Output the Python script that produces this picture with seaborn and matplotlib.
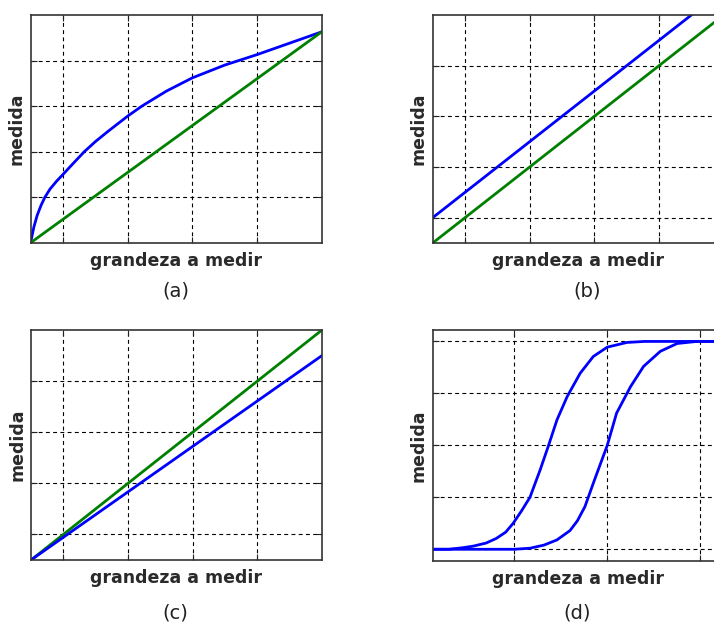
import matplotlib
matplotlib.use("Agg")
import matplotlib.pyplot as plt
import seaborn as sns

# (a) curva nao linear vs ideal
a_x = [0, 0.02, 0.05, 0.1, 0.16, 0.22, 0.3, 0.4, 0.5, 0.65, 0.83, 1.0, 1.2, 1.5,
       1.72, 2.1, 2.5, 3.0, 3.5, 4.0, 4.5]
a_blue = [0, 0.15, 0.35, 0.6, 0.82, 1.0, 1.18, 1.35, 1.5, 1.73, 2.0, 2.22, 2.45, 2.78,
          3.0, 3.33, 3.62, 3.9, 4.13, 4.38, 4.63]
a_green_x = [0, 4.5]
a_green = [0, 4.63]

# (b) offset
b_x = [0, 4.5]
b_blue = [0.5, 5.0]
b_green = [0, 4.5]

# (c) ganho
c_x = [0, 4.5]
c_blue = [0, 4.0]
c_green = [0, 4.5]

# (d) histerese
d_left_x = [0.126, 0.3, 0.45, 0.56, 0.7, 0.81, 0.91, 0.99, 1.08, 1.17, 1.28, 1.37, 1.46,
            1.57, 1.71, 1.85, 2.0, 2.21, 2.4, 3.25]
d_left_y = [0, 0.0, 0.03, 0.06, 0.12, 0.21, 0.33, 0.5, 0.74, 1.0, 1.53, 2.0, 2.49,
            2.94, 3.39, 3.71, 3.89, 3.98, 4.0, 4.0]
d_right_x = [0.126, 1.0, 1.17, 1.32, 1.46, 1.6, 1.68, 1.76, 1.86, 2.0, 2.1, 2.25, 2.39,
             2.57, 2.75, 2.96, 3.25]
d_right_y = [0, 0, 0.02, 0.08, 0.18, 0.36, 0.55, 0.82, 1.32, 2.0, 2.62, 3.13, 3.52,
             3.81, 3.96, 4.0, 4.0]

BLUE = "#0000ff"
GREEN = "#008000"
W, H = 714, 623

sns.set_style("white")
plt.rcParams["font.family"] = ["DejaVu Sans"]

fig = plt.figure(figsize=(W / 100, H / 100), dpi=100)


def make_ax(left, top, bottom, width=291):
    return fig.add_axes([left / W, 1 - bottom / H, width / W, (bottom - top) / H])


def style(ax, xlim, ylim, xticks, yticks, caption, cap_x, cap_y):
    ax.set_xlim(*xlim)
    ax.set_ylim(*ylim)
    ax.set_xticks(xticks)
    ax.set_yticks(yticks)
    ax.set_xticklabels([])
    ax.set_yticklabels([])
    ax.tick_params(direction="in", length=4, width=0.8, top=True, right=True,
                   bottom=True, left=True, color="#222222")
    ax.grid(True, color="black", linestyle=(0, (3.5, 3)), linewidth=0.8)
    for s in ax.spines.values():
        s.set_color("#333333")
        s.set_linewidth(1.2)
    ax.set_xlabel("grandeza a medir", fontsize=12.5, fontweight="bold",
                  color="#2a2a2a", labelpad=3)
    ax.set_ylabel("medida", fontsize=12.5, fontweight="bold",
                  color="#2a2a2a", labelpad=0)
    fig.text(cap_x / W, 1 - cap_y / H, caption, fontsize=14,
             ha="center", va="center", color="#222222")


lw = 2.0

ax = make_ax(30.7, 15, 242.7)
sns.lineplot(x=a_x, y=a_blue, color=BLUE, lw=lw, ax=ax)
sns.lineplot(x=a_green_x, y=a_green, color=GREEN, lw=lw, ax=ax)
style(ax, (0, 4.5), (0, 5), [0.5, 1.5, 2.5, 3.5], [1, 2, 3, 4], "(a)", 176, 291)

ax = make_ax(432.7, 15, 243)
sns.lineplot(x=b_x, y=b_blue, color=BLUE, lw=lw, ax=ax)
sns.lineplot(x=b_x, y=b_green, color=GREEN, lw=lw, ax=ax)
style(ax, (0, 4.5), (0, 4.5), [0.5, 1.5, 2.5, 3.5], [0.5, 1.5, 2.5, 3.5], "(b)", 587, 291)

ax = make_ax(31, 330, 560)
sns.lineplot(x=c_x, y=c_green, color=GREEN, lw=lw, ax=ax)
sns.lineplot(x=c_x, y=c_blue, color=BLUE, lw=lw, ax=ax)
style(ax, (0, 4.5), (0, 4.5), [0.5, 1.5, 2.5, 3.5], [0.5, 1.5, 2.5, 3.5], "(c)", 175, 613)

ax = make_ax(432.7, 330, 560.7)
sns.lineplot(x=d_left_x, y=d_left_y, color=BLUE, lw=lw, ax=ax)
sns.lineplot(x=d_right_x, y=d_right_y, color=BLUE, lw=lw, ax=ax)
style(ax, (0.126, 3.25), (-0.22, 4.22), [1, 2, 3], [0, 1, 2, 3, 4], "(d)", 577, 613)

fig.savefig("out.png", dpi=100)
